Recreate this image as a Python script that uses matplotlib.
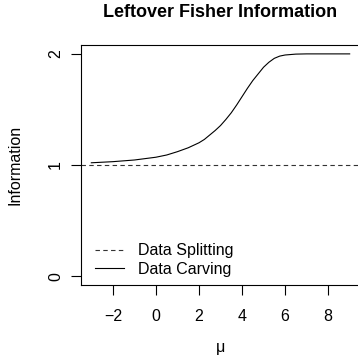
import numpy as np
import matplotlib.pyplot as plt

plt.rcParams['font.family'] = ['Liberation Sans', 'DejaVu Sans']

## Valeurs
mu = [-3, -2, -1, 0, 0.5, 1, 1.5, 2, 2.25, 2.5, 2.75, 3, 3.25, 3.5, 3.75, 4,
      4.25, 4.5, 4.75, 5, 5.25, 5.5, 5.75, 6, 6.5, 7, 8, 9]
carving = [1.02, 1.03, 1.045, 1.07, 1.09, 1.12, 1.155, 1.20, 1.23, 1.27, 1.31,
           1.355, 1.41, 1.47, 1.54, 1.615, 1.69, 1.76, 1.82, 1.88, 1.925, 1.96,
           1.98, 1.99, 1.998, 2.0, 2.0, 2.0]
splitting = 1.0
xticks = [-2, 0, 2, 4, 6, 8]
yticks = [0, 1, 2]

fig = plt.figure(figsize=(3.58, 3.56), dpi=100)
ax = fig.add_axes([81/358, 71/356, 279/358, 240/356])

ax.axhline(splitting, color='#333333', lw=0.8, ls=(0, (4, 3)), label='Data Splitting')
ax.plot(mu, carving, color='black', lw=0.8, label='Data Carving')

ax.set_xlim(-3.48, 9.48)
ax.set_ylim(-0.08, 2.08)
ax.set_xticks(xticks)
ax.set_yticks(yticks)
ax.set_yticklabels([str(v) for v in yticks], rotation=90, va='center')
ax.tick_params(direction='out', length=7, width=0.8, labelsize=11.5)
ax.tick_params(axis='x', pad=10)
ax.tick_params(axis='y', pad=6)
for s in ax.spines.values():
    s.set_linewidth(0.8)
ax.spines['right'].set_visible(False)

ax.set_title('Leftover Fisher Information', fontsize=13, fontweight='bold', pad=20)
ax.set_xlabel('μ', fontsize=11.5, labelpad=12)
ax.set_ylabel('Information', fontsize=11.5, labelpad=18)

ax.legend(loc='lower left', frameon=False, fontsize=11.5, handlelength=1.8,
          handletextpad=0.9, labelspacing=0.2, borderaxespad=0, borderpad=0,
          bbox_to_anchor=(0.05, 0.035))

plt.savefig('out.png', dpi=100)
